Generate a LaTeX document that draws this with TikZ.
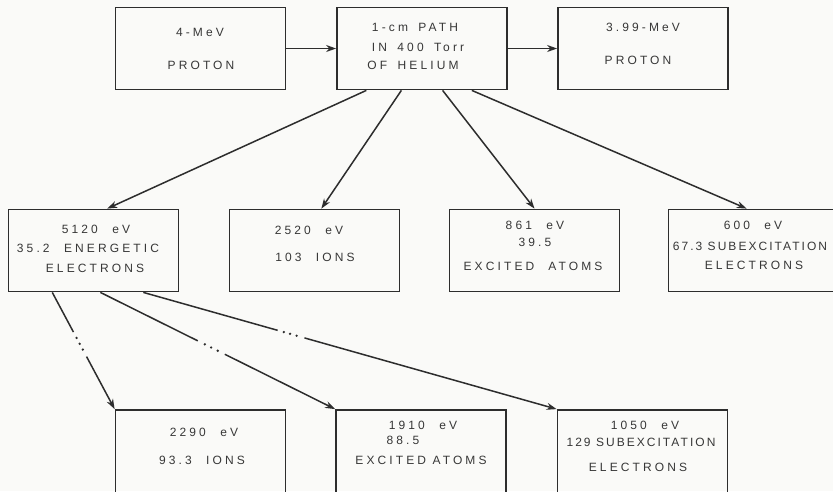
\documentclass[tikz,border=0pt]{standalone}
\usepackage{fontspec}
\setmainfont{Liberation Sans}[LetterSpace=26]
\usetikzlibrary{arrows.meta,calc}
\definecolor{ink}{RGB}{45,45,45}
\definecolor{txtc}{RGB}{55,55,55}
\definecolor{paper}{RGB}{250,250,248}
\newcommand{\tightls}{\addfontfeature{LetterSpace=17}}
\begin{document}
\begin{tikzpicture}[x=1pt,y=-1pt,
 box/.style={draw=ink,line width=1.8pt,minimum width=170pt,minimum height=82pt,inner sep=0pt},
 txt/.style={text=txtc,font=\fontsize{12}{13}\selectfont,inner sep=0pt},
 arr/.style={draw=ink,line width=1.5pt,-{Stealth[length=10pt,width=7pt]}},
 ln/.style={draw=ink,line width=1.5pt},
 dot/.style={fill=ink}]
\fill[paper] (0,0) rectangle (833,491);
\useasboundingbox (0,0) rectangle (833,491);
% boxes
\node[box] (A) at (200.5,48.5) {};
\node[box] (B) at (422,48.5) {};
\node[box] (C) at (643,48.5) {};
\node[box] (D) at (93.5,250.5) {};
\node[box] (E) at (314.5,250.5) {};
\node[box] (F) at (534.5,250.5) {};
\node[box] (G) at (753.5,250.5) {};
\node[box,minimum height=92pt] (H) at (200.5,456) {};
\node[box,minimum height=92pt] (I) at (421,456) {};
\node[box,minimum height=92pt] (J) at (642.5,456) {};
% texts
\node[txt] (a1) at (200,32) {4-MeV};
\node[txt] (a2) at (201,65) {PROTON};
\node[txt] (b1) at (415,27) {1-cm\hspace{4pt} PATH};
\node[txt] (b2) at (418,47) {IN\hspace{4pt} 400\hspace{4pt} Torr};
\node[txt] (b3) at (413,65) {OF\hspace{4pt} HELIUM};
\node[txt] (c1) at (643,27) {3.99-MeV};
\node[txt] (c2) at (638,60) {PROTON};
\node[txt] (d1) at (96,229) {5120\hspace{8pt} eV};
\node[txt] (d2) at (88,248) {35.2\hspace{8pt} ENERGETIC};
\node[txt] (d3) at (95,268) {ELECTRONS};
\node[txt] (e1) at (309,230) {2520\hspace{8pt} eV};
\node[txt] (e2) at (315,257) {103\hspace{8pt} IONS};
\node[txt] (f1) at (535,225) {861\hspace{8pt} eV};
\node[txt] (f2) at (535,242) {39.5};
\node[txt] (f3) at (533,266) {EXCITED\hspace{14pt}ATOMS};
\node[txt] (g1) at (753,225) {600\hspace{8pt} eV};
\node[txt] (g2) at (750,246) {\tightls 67.3 SUBEXCITATION};
\node[txt] (g3) at (754,265) {ELECTRONS};
\node[txt] (h1) at (204,432) {2290\hspace{8pt} eV};
\node[txt] (h2) at (202,460) {93.3\hspace{8pt} IONS};
\node[txt] (i1) at (423,425) {1910\hspace{8pt} eV};
\node[txt] (i2) at (403,440) {88.5};
\node[txt] (i3) at (421,460) {EXCITED ATOMS};
\node[txt] (j1) at (645,425) {1050\hspace{8pt} eV};
\node[txt] (j2) at (641,442) {\tightls 129 SUBEXCITATION};
\node[txt] (j3) at (638,467) {ELECTRONS};
% top connectors
\draw[arr] (A) -- (B);
\draw[arr] (B) -- (C);
\coordinate (b1s) at ($(B.south west)!0.176!(B.south east)$);
\coordinate (b2s) at ($(B.south west)!0.38!(B.south east)$);
\coordinate (b3s) at ($(B.south west)!0.62!(B.south east)$);
\coordinate (b4s) at ($(B.south west)!0.79!(B.south east)$);
\coordinate (dN) at ($(D.north west)!0.58!(D.north east)$);
\coordinate (eN) at ($(E.north west)!0.54!(E.north east)$);
\coordinate (fN) at ($(F.north west)!0.50!(F.north east)$);
\coordinate (gN) at ($(G.north west)!0.46!(G.north east)$);
\draw[arr] (b1s) -- (dN);
\draw[arr] (b2s) -- (eN);
\draw[arr] (b3s) -- (fN);
\draw[arr] (b4s) -- (gN);
% broken connectors from D
\coordinate (d1s) at ($(D.south west)!0.26!(D.south east)$);
\coordinate (d2s) at ($(D.south west)!0.54!(D.south east)$);
\coordinate (d3s) at ($(D.south west)!0.79!(D.south east)$);
\coordinate (hN) at (H.north west);
\coordinate (iN) at (I.north west);
\coordinate (jN) at (J.north west);
% D -> H
\draw[ln] (d1s) -- ($(d1s)!0.34!(hN)$);
\fill[dot] ($(d1s)!0.39!(hN)$) circle (1.3pt) ($(d1s)!0.44!(hN)$) circle (1.3pt) ($(d1s)!0.49!(hN)$) circle (1.3pt);
\draw[arr] ($(d1s)!0.55!(hN)$) -- (hN);
% D -> I
\draw[ln] (d2s) -- ($(d2s)!0.415!(iN)$);
\fill[dot] ($(d2s)!0.445!(iN)$) circle (1.3pt) ($(d2s)!0.472!(iN)$) circle (1.3pt) ($(d2s)!0.5!(iN)$) circle (1.3pt);
\draw[arr] ($(d2s)!0.53!(iN)$) -- (iN);
% D -> J
\draw[ln] (d3s) -- ($(d3s)!0.325!(jN)$);
\fill[dot] ($(d3s)!0.34!(jN)$) circle (1.3pt) ($(d3s)!0.355!(jN)$) circle (1.3pt) ($(d3s)!0.371!(jN)$) circle (1.3pt);
\draw[arr] ($(d3s)!0.39!(jN)$) -- (jN);
\end{tikzpicture}
\end{document}
